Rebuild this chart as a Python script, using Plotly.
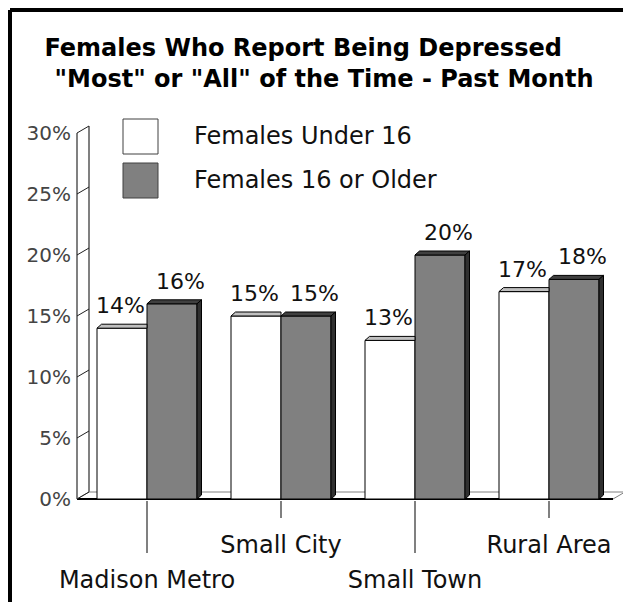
import plotly.graph_objects as go

# data
categories = ["Madison Metro", "Small City", "Small Town", "Rural Area"]
under16 = [14, 15, 13, 17]
older16 = [16, 15, 20, 18]
series_names = ["Females Under 16", "Females 16 or Older"]
y_ticks = [0, 5, 10, 15, 20, 25, 30]
y_tick_text = [f"{t}%" for t in y_ticks]

# canvas / plot area in pixels
W, H = 623, 602
L, R, T, B = 72, 0, 120, 102
pw, ph = W - L - R, H - T - B
ux, uy = 134, 12.2                 # px per category step, px per percent
x_lo = -(147 - L) / ux
y_lo = -(H - B - 499) / uy
x_range = [x_lo, x_lo + pw / ux]
y_range = [y_lo, y_lo + ph / uy]


def dx(px):  # pixel column -> x data
    return x_lo + (px - L) / ux


def pp(px, py):  # pixel -> paper coords
    return (px - L) / pw, (H - B - py) / ph


bar_w = 50 / ux
bdx, bdy = 4.5 / ux, 4 / uy        # depth of the bars
wdx, wdy = 12 / ux, 7 / uy         # depth of wall / floor
x_wall, x_floor = dx(77), dx(613)

FONT = "DejaVu Sans"
WHITE, GRAY = "#ffffff", "#808080"

fig = go.Figure()
idx = list(range(len(categories)))

fig.add_trace(go.Bar(x=idx, y=under16, width=bar_w, offset=-bar_w, name=series_names[0],
                     marker=dict(color=WHITE, line=dict(color="black", width=1))))
fig.add_trace(go.Bar(x=idx, y=older16, width=bar_w, offset=0, name=series_names[1],
                     marker=dict(color=GRAY, line=dict(color="black", width=1))))

# 3d faces of the bars
wt_x, wt_y, gt_x, gt_y, gs_x, gs_y = [], [], [], [], [], []
for i, (a, b) in enumerate(zip(under16, older16)):
    xl = i - bar_w
    xr = i if b >= a else i + bdx
    wt_x += [xl, xl + bdx, xr, i, xl, None]
    wt_y += [a, a + bdy, a + bdy, a, a, None]
    gt_x += [i, i + bdx, i + bar_w + bdx, i + bar_w, i, None]
    gt_y += [b, b + bdy, b + bdy, b, b, None]
    gs_x += [i + bar_w, i + bar_w + bdx, i + bar_w + bdx, i + bar_w, i + bar_w, None]
    gs_y += [0, bdy, b + bdy, b, 0, None]

for xs, ys, col in [(wt_x, wt_y, "#c0c0c0"), (gt_x, gt_y, "#404040"), (gs_x, gs_y, "#303030")]:
    fig.add_trace(go.Scatter(x=xs, y=ys, mode="lines", fill="toself", fillcolor=col,
                             line=dict(color="black", width=1), hoverinfo="skip"))

# invisible trace so the second x axis (staggered ticks) is drawn
fig.add_trace(go.Scatter(x=[], y=[], xaxis="x2", hoverinfo="skip"))

shapes = []
# floor
shapes.append(dict(type="path", xref="x", yref="y", layer="below",
                   path=f"M{x_wall},0 L{x_floor},0 L{x_floor + wdx},{wdy} L{x_wall + wdx},{wdy} Z",
                   fillcolor="white", line=dict(color="#808080", width=1)))
shapes.append(dict(type="line", xref="x", yref="y", layer="below", x0=x_wall, x1=x_floor, y0=0, y1=0,
                   line=dict(color="black", width=2)))
# wall
top = y_ticks[-1]
shapes.append(dict(type="line", xref="x", yref="y", layer="below", x0=x_wall, x1=x_wall, y0=0, y1=top,
                   line=dict(color="#808080", width=2)))
shapes.append(dict(type="line", xref="x", yref="y", layer="below", x0=x_wall + wdx, x1=x_wall + wdx,
                   y0=wdy, y1=top + wdy, line=dict(color="#808080", width=2)))
for t in y_ticks:
    shapes.append(dict(type="line", xref="x", yref="y", layer="below", x0=x_wall, x1=x_wall + wdx,
                       y0=t, y1=t + wdy, line=dict(color="#202020", width=1)))

# frame
fx, fy = pp(10, 10)
_, fb = pp(10, H)
fr, _ = pp(W, 10)
shapes.append(dict(type="line", xref="paper", yref="paper", x0=fx, x1=fx, y0=fy, y1=fb,
                   line=dict(color="black", width=4)))
shapes.append(dict(type="line", xref="paper", yref="paper", x0=fx, x1=fr, y0=fy, y1=fy,
                   line=dict(color="black", width=4)))

# legend boxes
annotations = []
for k, (name, col) in enumerate(zip(series_names, [WHITE, GRAY])):
    top_px = 119 + k * 44
    bx0, by0 = pp(123, top_px)
    bx1, by1 = pp(158, top_px + 35)
    shapes.append(dict(type="rect", xref="paper", yref="paper", x0=bx0, x1=bx1, y0=by1, y1=by0,
                       fillcolor=col, line=dict(color="#404040", width=1)))
    tx, ty = pp(192, top_px + 17)
    annotations.append(dict(xref="paper", yref="paper", x=tx, y=ty, text=name, showarrow=False,
                            xanchor="left", yanchor="middle", font=dict(family=FONT, size=24, color="#111")))

# value labels
for i, (a, b) in enumerate(zip(under16, older16)):
    annotations.append(dict(x=i - bar_w / 2, y=a, text=f"{a}%", showarrow=False, yanchor="bottom",
                            xshift=-2, yshift=8, font=dict(family=FONT, size=22, color="#111")))
    annotations.append(dict(x=i + bar_w / 2, y=b, text=f"{b}%", showarrow=False, yanchor="bottom",
                            xshift=8, yshift=8, font=dict(family=FONT, size=22, color="#111")))

tick_font = dict(family=FONT, size=24, color="#111")
fig.update_layout(
    width=W, height=H,
    margin=dict(l=L, r=R, t=T, b=B),
    paper_bgcolor="white", plot_bgcolor="rgba(0,0,0,0)",
    barmode="overlay", showlegend=False,
    title=dict(text="Females Who Report Being Depressed&nbsp;&nbsp;<br>"
                    "&nbsp;&nbsp;&nbsp;\"Most\" or \"All\" of the Time - Past Month",
               x=0.5, xanchor="center", y=1 - 56 / H, yanchor="middle",
               font=dict(family=FONT, size=24, color="black", weight="bold")),
    xaxis=dict(range=x_range, showgrid=False, zeroline=False, showline=False,
               tickvals=idx[0::2], ticktext=categories[0::2], ticks="outside", ticklen=52,
               tickwidth=2, tickcolor="#808080", tickfont=tick_font, ticklabelstandoff=6),
    xaxis2=dict(range=x_range, overlaying="x", anchor="y", side="bottom", showgrid=False,
                zeroline=False, showline=False, tickvals=idx[1::2], ticktext=categories[1::2],
                ticks="outside", ticklen=17, tickwidth=2, tickcolor="#808080", tickfont=tick_font,
                ticklabelstandoff=6),
    yaxis=dict(range=y_range, showgrid=False, zeroline=False, showline=False,
               tickvals=y_ticks, ticktext=y_tick_text, ticks="",
               tickfont=dict(family=FONT, size=20, color="#444")),
    shapes=shapes,
    annotations=annotations,
)

fig.write_html("out.html", config={"displayModeBar": False},
               post_script="document.body.style.margin='0';")
